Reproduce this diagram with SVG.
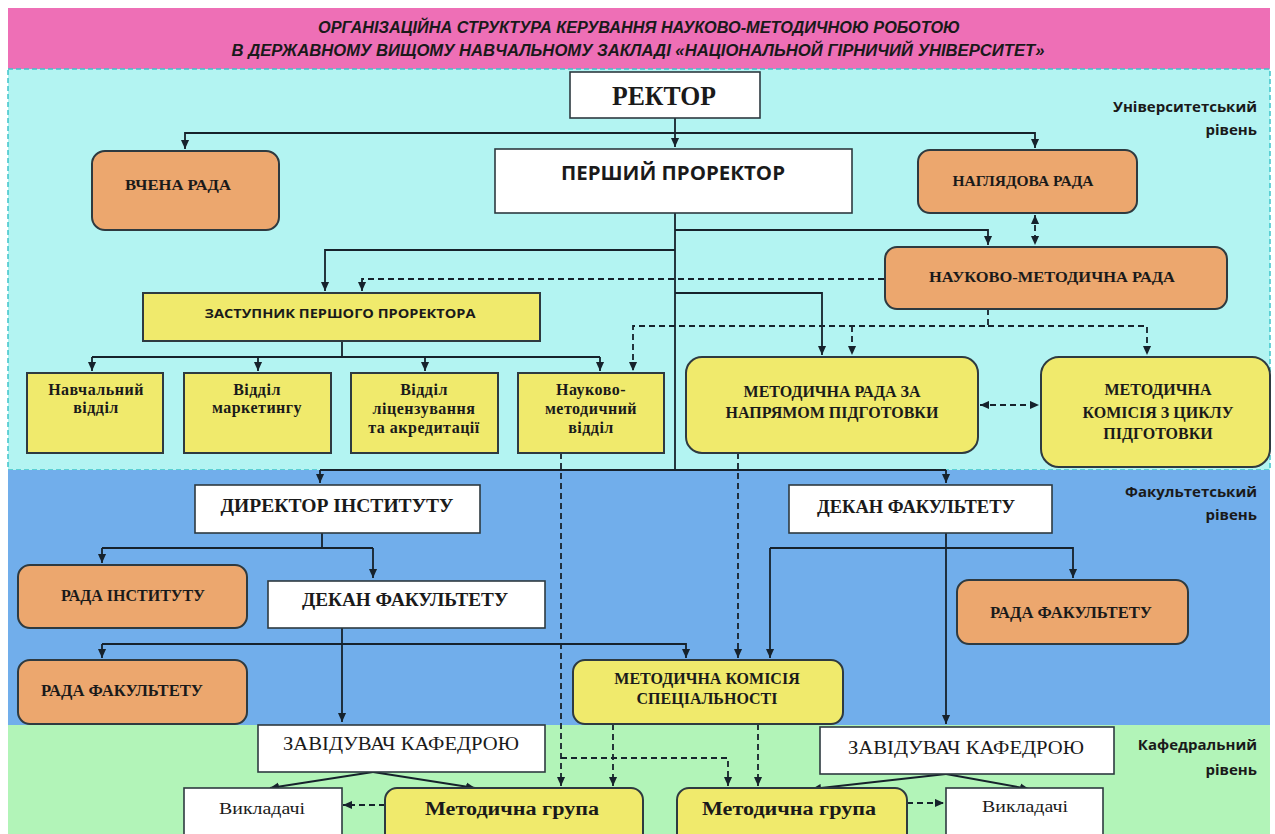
<svg xmlns="http://www.w3.org/2000/svg" width="1275" height="834" viewBox="0 0 1275 834">
<defs>
<marker id="ah" viewBox="0 0 10 10" refX="10" refY="5" markerWidth="9" markerHeight="9" markerUnits="userSpaceOnUse" orient="auto-start-reverse"><path d="M0,0.5 L10,5 L0,9.5 z" fill="#16222c"/></marker>
<style>
.ln{fill:none;stroke:#16222c;stroke-width:1.8}
.ds{fill:none;stroke:#16222c;stroke-width:1.8;stroke-dasharray:6 4}
.wh{fill:#ffffff;stroke:#2e3a40;stroke-width:1.6}
.or{fill:#ECA76E;stroke:#2e3a40;stroke-width:2}
.ye{fill:#F0EA6C;stroke:#2e3a40;stroke-width:2}
.sb{font-family:"Liberation Serif",serif;font-weight:bold;fill:#1a1a1a;text-anchor:middle}
.sm{font-family:"Liberation Serif",serif;font-weight:bold;font-size:16px;letter-spacing:0.5px;fill:#1a1a1a;text-anchor:middle}
.sr{font-family:"Liberation Serif",serif;fill:#1a1a1a;text-anchor:middle}
.ss{font-family:"Open Sans","Liberation Sans",sans-serif;font-weight:bold;fill:#1a1a1a;text-anchor:middle}
.lv{font-family:"Open Sans","Liberation Sans",sans-serif;font-weight:bold;font-size:15px;fill:#1a1a1a;text-anchor:end}
</style>
</defs>
<!-- bands -->
<rect x="8" y="8" width="1262" height="61" fill="#EE6FB6"/>
<rect x="8" y="69" width="1262" height="401" fill="#B3F4F2" stroke="#3fc4ca" stroke-width="1.5" stroke-dasharray="5 3"/>
<rect x="8" y="470" width="1262" height="255" fill="#71AEEB"/>
<rect x="8" y="725" width="1262" height="109" fill="#B2F4B8"/>
<text x="639" y="33" font-family="Liberation Sans,sans-serif" font-weight="bold" font-style="italic" font-size="16" fill="#1a1a1a" text-anchor="middle" textLength="642" lengthAdjust="spacingAndGlyphs">ОРГАНІЗАЦІЙНА СТРУКТУРА КЕРУВАННЯ НАУКОВО-МЕТОДИЧНОЮ РОБОТОЮ</text>
<text x="638" y="56" font-family="Liberation Sans,sans-serif" font-weight="bold" font-style="italic" font-size="16" fill="#1a1a1a" text-anchor="middle" textLength="813" lengthAdjust="spacingAndGlyphs">В ДЕРЖАВНОМУ ВИЩОМУ НАВЧАЛЬНОМУ ЗАКЛАДІ «НАЦІОНАЛЬНОЙ ГІРНИЧИЙ УНІВЕРСИТЕТ»</text>
<!-- level labels -->
<text class="lv" x="1257" y="112">Університетський</text>
<text class="lv" x="1257" y="135">рівень</text>
<text class="lv" x="1257" y="497">Факультетський</text>
<text class="lv" x="1257" y="520">рівень</text>
<text class="lv" x="1257" y="750">Кафедральний</text>
<text class="lv" x="1257" y="775">рівень</text>

<g id="connectors">
<path class="ln" d="M675,118 V147" marker-end="url(#ah)"/>
<path class="ln" d="M675,133 H185 V149" marker-end="url(#ah)"/>
<path class="ln" d="M675,133 H1035 V148" marker-end="url(#ah)"/>
<path class="ds" d="M1035,215 V245" marker-start="url(#ah)" marker-end="url(#ah)"/>
<path class="ln" d="M675,213 V470"/>
<path class="ln" d="M675,230 H988 V245" marker-end="url(#ah)"/>
<path class="ln" d="M675,250 H325 V291" marker-end="url(#ah)"/>
<path class="ds" d="M884,279 H362 V291" marker-end="url(#ah)"/>
<path class="ln" d="M675,293 H822 V355" marker-end="url(#ah)"/>
<path class="ds" d="M988,309 V326 H633 V371" marker-end="url(#ah)"/>
<path class="ds" d="M988,326 H1147 V355" marker-end="url(#ah)"/>
<path class="ds" d="M852,326 V355" marker-end="url(#ah)"/>
<path class="ln" d="M342,341 V357 M92,357 H600"/>
<path class="ln" d="M92,357 V371" marker-end="url(#ah)"/>
<path class="ln" d="M258,357 V371" marker-end="url(#ah)"/>
<path class="ln" d="M425,357 V371" marker-end="url(#ah)"/>
<path class="ln" d="M600,357 V371" marker-end="url(#ah)"/>
<path class="ds" d="M980,405 H1039" marker-start="url(#ah)" marker-end="url(#ah)"/>
<path class="ln" d="M320,470 H946"/>
<path class="ln" d="M320,470 V483" marker-end="url(#ah)"/>
<path class="ln" d="M946,470 V483" marker-end="url(#ah)"/>
<path class="ds" d="M561,453 V786" marker-end="url(#ah)"/>
<path class="ds" d="M738,453 V658" marker-end="url(#ah)"/>
<path class="ln" d="M322,533 V548 M102,548 H373"/>
<path class="ln" d="M102,548 V563" marker-end="url(#ah)"/>
<path class="ln" d="M373,548 V578" marker-end="url(#ah)"/>
<path class="ln" d="M946,533 V724" marker-end="url(#ah)"/>
<path class="ln" d="M770,548 H1073 V578" marker-end="url(#ah)"/>
<path class="ln" d="M770,548 V658" marker-end="url(#ah)"/>
<path class="ln" d="M342,628 V722" marker-end="url(#ah)"/>
<path class="ln" d="M102,644 H686 V658" marker-end="url(#ah)"/>
<path class="ln" d="M102,644 V658" marker-end="url(#ah)"/>
<path class="ds" d="M613,724 V786" marker-end="url(#ah)"/>
<path class="ds" d="M561,758 H728 V786" marker-end="url(#ah)"/>
<path class="ds" d="M758,724 V786" marker-end="url(#ah)"/>
<path class="ln" d="M373,772 L270,788" marker-end="url(#ah)"/>
<path class="ln" d="M373,772 L475,788" marker-end="url(#ah)"/>
<path class="ds" d="M385,805 H343" marker-end="url(#ah)"/>
<path class="ln" d="M946,774 L812,789" marker-end="url(#ah)"/>
<path class="ln" d="M946,774 L1029,789" marker-end="url(#ah)"/>
<path class="ds" d="M907,803 H944" marker-end="url(#ah)"/>
</g>

<g id="rector"><rect class="wh" x="570" y="72" width="190" height="46"/><text class="sb" x="664" y="105" font-size="27" textLength="104" lengthAdjust="spacingAndGlyphs">РЕКТОР</text></g>
<g id="vchena"><rect class="or" x="92" y="151" width="187" height="79" rx="13"/><text class="sb" x="178" y="190" font-size="15" textLength="106" lengthAdjust="spacingAndGlyphs">ВЧЕНА РАДА</text></g>
<g id="pershyi"><rect class="wh" x="495" y="149" width="357" height="64"/><text class="ss" x="673" y="180" font-size="19" textLength="224" lengthAdjust="spacingAndGlyphs">ПЕРШИЙ ПРОРЕКТОР</text></g>
<g id="nahliadova"><rect class="or" x="918" y="150" width="219" height="63" rx="12"/><text class="sb" x="1023" y="186" font-size="15" textLength="141" lengthAdjust="spacingAndGlyphs">НАГЛЯДОВА РАДА</text></g>
<g id="nmr"><rect class="or" x="885" y="247" width="342" height="62" rx="12"/><text class="sb" x="1052" y="282" font-size="15" textLength="246" lengthAdjust="spacingAndGlyphs">НАУКОВО-МЕТОДИЧНА РАДА</text></g>
<g id="zastupnyk"><rect class="ye" x="143" y="293" width="397" height="48"/><text class="ss" x="340" y="318" font-size="13" textLength="271" lengthAdjust="spacingAndGlyphs">ЗАСТУПНИК ПЕРШОГО ПРОРЕКТОРА</text></g>
<g id="navch"><rect class="ye" x="27" y="373" width="136" height="80"/><text class="sm" x="96" y="395">Навчальний</text><text class="sm" x="96" y="413">відділ</text></g>
<g id="market"><rect class="ye" x="184" y="373" width="147" height="80"/><text class="sm" x="257" y="395">Відділ</text><text class="sm" x="257" y="413">маркетингу</text></g>
<g id="lits"><rect class="ye" x="351" y="373" width="147" height="80"/><text class="sm" x="424" y="395">Відділ</text><text class="sm" x="424" y="414">ліцензування</text><text class="sm" x="424" y="433">та акредитації</text></g>
<g id="nmv"><rect class="ye" x="518" y="373" width="146" height="80"/><text class="sm" x="591" y="395">Науково-</text><text class="sm" x="591" y="414">методичний</text><text class="sm" x="591" y="433">відділ</text></g>
<g id="mrnp"><rect class="ye" x="686" y="357" width="292" height="96" rx="16"/><text class="sb" x="832" y="397" font-size="16">МЕТОДИЧНА РАДА ЗА</text><text class="sb" x="832" y="418" font-size="16">НАПРЯМОМ ПІДГОТОВКИ</text></g>
<g id="mkcp"><rect class="ye" x="1041" y="357" width="229" height="110" rx="18"/><text class="sb" x="1158" y="395" font-size="16">МЕТОДИЧНА</text><text class="sb" x="1158" y="418" font-size="16">КОМІСІЯ З ЦИКЛУ</text><text class="sb" x="1158" y="439" font-size="16">ПІДГОТОВКИ</text></g>

<g id="dyrektor"><rect class="wh" x="195" y="485" width="285" height="48"/><text class="sr" x="337" y="512" font-size="19" font-weight="bold" textLength="233" lengthAdjust="spacingAndGlyphs">ДИРЕКТОР ІНСТИТУТУ</text></g>
<g id="dekan2"><rect class="wh" x="789" y="485" width="263" height="48"/><text class="sr" x="916" y="513" font-size="19" font-weight="bold" textLength="198" lengthAdjust="spacingAndGlyphs">ДЕКАН ФАКУЛЬТЕТУ</text></g>
<g id="rada-inst"><rect class="or" x="18" y="565" width="229" height="63" rx="12"/><text class="sb" x="133" y="601" font-size="16">РАДА ІНСТИТУТУ</text></g>
<g id="dekan1"><rect class="wh" x="268" y="581" width="277" height="47"/><text class="sr" x="405" y="606" font-size="19" font-weight="bold" textLength="206" lengthAdjust="spacingAndGlyphs">ДЕКАН ФАКУЛЬТЕТУ</text></g>
<g id="rada-fak2"><rect class="or" x="957" y="580" width="231" height="64" rx="12"/><text class="sb" x="1071" y="618" font-size="16" textLength="162" lengthAdjust="spacingAndGlyphs">РАДА ФАКУЛЬТЕТУ</text></g>
<g id="rada-fak1"><rect class="or" x="18" y="660" width="229" height="64" rx="12"/><text class="sb" x="122" y="696" font-size="16" textLength="162" lengthAdjust="spacingAndGlyphs">РАДА ФАКУЛЬТЕТУ</text></g>
<g id="mks"><rect class="ye" x="573" y="660" width="270" height="64" rx="12"/><text class="sb" x="707" y="684" font-size="16">МЕТОДИЧНА КОМІСІЯ</text><text class="sb" x="707" y="704" font-size="16">СПЕЦІАЛЬНОСТІ</text></g>

<g id="zav1"><rect class="wh" x="258" y="725" width="287" height="47"/><text class="sr" x="401" y="750" font-size="19" textLength="236" lengthAdjust="spacingAndGlyphs">ЗАВІДУВАЧ КАФЕДРОЮ</text></g>
<g id="zav2"><rect class="wh" x="820" y="727" width="294" height="47"/><text class="sr" x="966" y="754" font-size="19" textLength="236" lengthAdjust="spacingAndGlyphs">ЗАВІДУВАЧ КАФЕДРОЮ</text></g>
<g id="vykl1"><rect class="wh" x="184" y="788" width="158" height="60"/><text class="sr" x="262" y="814" font-size="17" textLength="86" lengthAdjust="spacingAndGlyphs">Викладачі</text></g>
<g id="mg1"><rect class="ye" x="385" y="788" width="258" height="60" rx="12"/><text class="sb" x="512" y="815" font-size="18" textLength="174" lengthAdjust="spacingAndGlyphs">Методична група</text></g>
<g id="mg2"><rect class="ye" x="677" y="788" width="230" height="60" rx="12"/><text class="sb" x="789" y="815" font-size="18" textLength="174" lengthAdjust="spacingAndGlyphs">Методична група</text></g>
<g id="vykl2"><rect class="wh" x="946" y="788" width="157" height="60"/><text class="sr" x="1025" y="812" font-size="17" textLength="86" lengthAdjust="spacingAndGlyphs">Викладачі</text></g>
</svg>
